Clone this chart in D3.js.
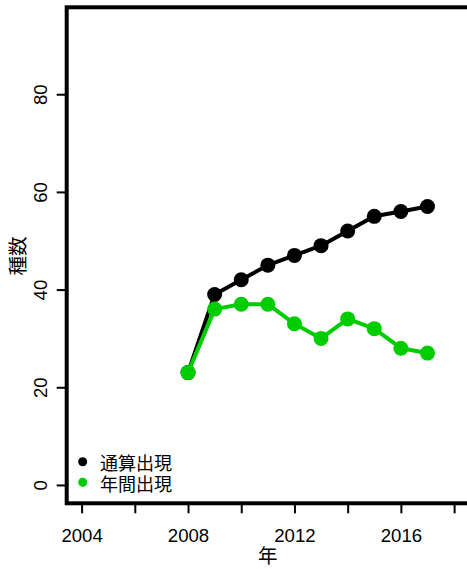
<!DOCTYPE html>
<html><head><meta charset="utf-8">
<script src="https://cdn.jsdelivr.net/npm/d3@7"></script>
<style>
html,body{margin:0;padding:0;background:#fff;}
svg{display:block;}
text{font-family:"Liberation Sans",Arial,"Noto Sans CJK JP",sans-serif;}
</style></head>
<body><svg id="c" width="467" height="569"></svg>
<script>
const years = [2008,2009,2010,2011,2012,2013,2014,2015,2016,2017];
const cumulative = [23,39,42,45,47,49,52,55,56,57];
const annual = [23,36,37,37,33,30,34,32,28,27];
const xTicks = [2004,2006,2008,2010,2012,2014,2016,2018];
const xLabels = [2004,2008,2012,2016];
const yTicks = [0,20,40,60,80];
const seriesNames = ["通算出現","年間出現"];
const seriesColors = ["#000000","#00cd00"];
const xTitle = "年", yTitle = "種数";

const svg = d3.select("#c");
const x = d3.scaleLinear().domain([2003.44, 2018.56]).range([66.7, 469]);
const y = d3.scaleLinear().domain([-3.76, 97.8]).range([503.3, 7.3]);
const font = "'Liberation Sans',Arial,sans-serif";
const cjk = "'Noto Sans CJK JP','Noto Sans CJK SC',sans-serif";

// box
svg.append("rect").attr("x", x.range()[0]).attr("y", y.range()[1])
  .attr("width", x.range()[1]-x.range()[0]).attr("height", y.range()[0]-y.range()[1])
  .attr("fill","none").attr("stroke","#000").attr("stroke-width",4);

// y axis
const yAxis = svg.append("g").attr("transform",`translate(${x.range()[0]},0)`)
  .call(d3.axisLeft(y).tickValues(yTicks).tickSize(10).tickPadding(9).tickFormat(d3.format("d")));
yAxis.select(".domain").remove();
yAxis.selectAll(".tick line").attr("stroke","#000").attr("stroke-width",2);
yAxis.selectAll(".tick text").attr("font-family",font).attr("font-size",18.6).attr("fill","#000")
  .attr("transform","rotate(-90)").attr("x",0).attr("y",-20).attr("dy","0").attr("text-anchor","middle");

// x axis
const xAxis = svg.append("g").attr("transform",`translate(0,${y.range()[0]})`)
  .call(d3.axisBottom(x).tickValues(xTicks).tickSize(10).tickPadding(8)
    .tickFormat(d => xLabels.includes(d) ? String(d) : ""));
xAxis.select(".domain").remove();
xAxis.selectAll(".tick line").attr("stroke","#000").attr("stroke-width",2);
xAxis.selectAll(".tick text").attr("font-family",font).attr("font-size",18.6).attr("fill","#000")
  .attr("y",38.4).attr("dy","0");

// titles
svg.append("text").attr("x", (x.range()[0]+x.range()[1])/2).attr("y",562.5).attr("text-anchor","middle")
  .attr("font-family",cjk).attr("font-size",19.5).text(xTitle);
svg.append("text").attr("transform",`translate(24.5,256) rotate(-90)`).attr("text-anchor","middle")
  .attr("font-family",cjk).attr("font-size",19.5).text(yTitle);

// series
const line = d3.line().x((d,i)=>x(years[i])).y(d=>y(d));
[cumulative, annual].forEach((vals, k) => {
  const g = svg.append("g");
  g.append("path").datum(vals).attr("d", line).attr("fill","none")
    .attr("stroke", seriesColors[k]).attr("stroke-width",4).attr("stroke-linejoin","round");
  g.selectAll("circle").data(vals).join("circle")
    .attr("cx",(d,i)=>x(years[i])).attr("cy",d=>y(d)).attr("r",7.5).attr("fill",seriesColors[k]);
});

// legend
const lg = svg.append("g");
seriesNames.forEach((n,k) => {
  const cy = 461.7 + k*20.6;
  lg.append("circle").attr("cx",82.7).attr("cy",cy).attr("r",4.5).attr("fill",seriesColors[k]);
  lg.append("text").attr("x",100).attr("y",cy+8.5).attr("font-family",cjk).attr("font-size",18)
    .attr("fill","#000").text(n);
});
</script></body></html>
